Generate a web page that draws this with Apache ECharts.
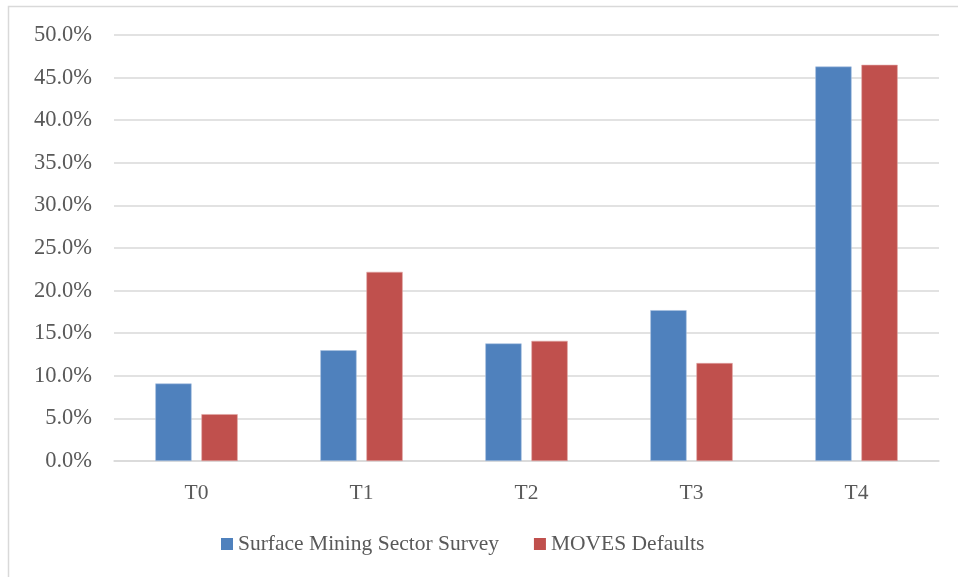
<!DOCTYPE html>
<html>
<head>
<meta charset="utf-8">
<script src="https://cdn.jsdelivr.net/npm/echarts@6/dist/echarts.min.js"></script>
<style>
  html, body { margin: 0; padding: 0; background: #fff; }
  #chart { width: 958px; height: 577px; }
</style>
</head>
<body>
<div id="chart"></div>
<script>
// Share of vehicles by engine tier (percent)
const categories = ['T0', 'T1', 'T2', 'T3', 'T4'];
const surveyValues = [9.1, 13.0, 13.8, 17.7, 46.3];
const movesValues = [5.5, 22.2, 14.1, 11.5, 46.5];
const seriesNames = ['Surface Mining Sector Survey', 'MOVES Defaults'];

const FONT = '"Liberation Serif", "DejaVu Serif", serif';
const TEXT = '#595959';
const SIZE = 21.5;

const chart = echarts.init(document.getElementById('chart'), null, { renderer: 'canvas' });
chart.setOption({
  animation: false,
  backgroundColor: '#fff',
  graphic: [{
    type: 'rect',
    shape: { x: 8.5, y: 6.5, width: 980, height: 600 },
    style: { fill: 'none', stroke: '#D9D9D9', lineWidth: 1.5 },
    silent: true
  }],
  grid: { left: 114, right: 19, top: 35, bottom: 116, containLabel: false },
  legend: {
    data: seriesNames,
    bottom: 17,
    left: 216,
    itemWidth: 12,
    itemHeight: 12,
    itemGap: 35,
    icon: 'rect',
    itemStyle: { borderWidth: 0 },
    textStyle: { fontFamily: FONT, fontSize: SIZE, color: TEXT }
  },
  xAxis: {
    type: 'category',
    data: categories,
    axisLine: { show: true, lineStyle: { color: '#D9D9D9', width: 1.5 } },
    axisTick: { show: false },
    axisLabel: { fontFamily: FONT, fontSize: SIZE, color: TEXT, margin: 21 }
  },
  yAxis: {
    type: 'value',
    min: 0,
    max: 50,
    interval: 5,
    axisLine: { show: false },
    axisTick: { show: false },
    splitLine: { lineStyle: { color: '#D9D9D9', width: 1.5 } },
    axisLabel: {
      fontFamily: FONT, fontSize: 22.5, color: TEXT, margin: 22,
      formatter: v => v.toFixed(1) + '%'
    }
  },
  series: [
    {
      name: seriesNames[0],
      type: 'bar',
      data: surveyValues,
      barWidth: '22%',
      barGap: '27%',
      itemStyle: { color: '#4F81BD', borderColor: '#A9C1E0', borderWidth: 0.6 }
    },
    {
      name: seriesNames[1],
      type: 'bar',
      data: movesValues,
      barWidth: '22%',
      itemStyle: { color: '#C0504D', borderColor: '#E0A6A4', borderWidth: 0.6 }
    }
  ]
});
</script>
</body>
</html>
